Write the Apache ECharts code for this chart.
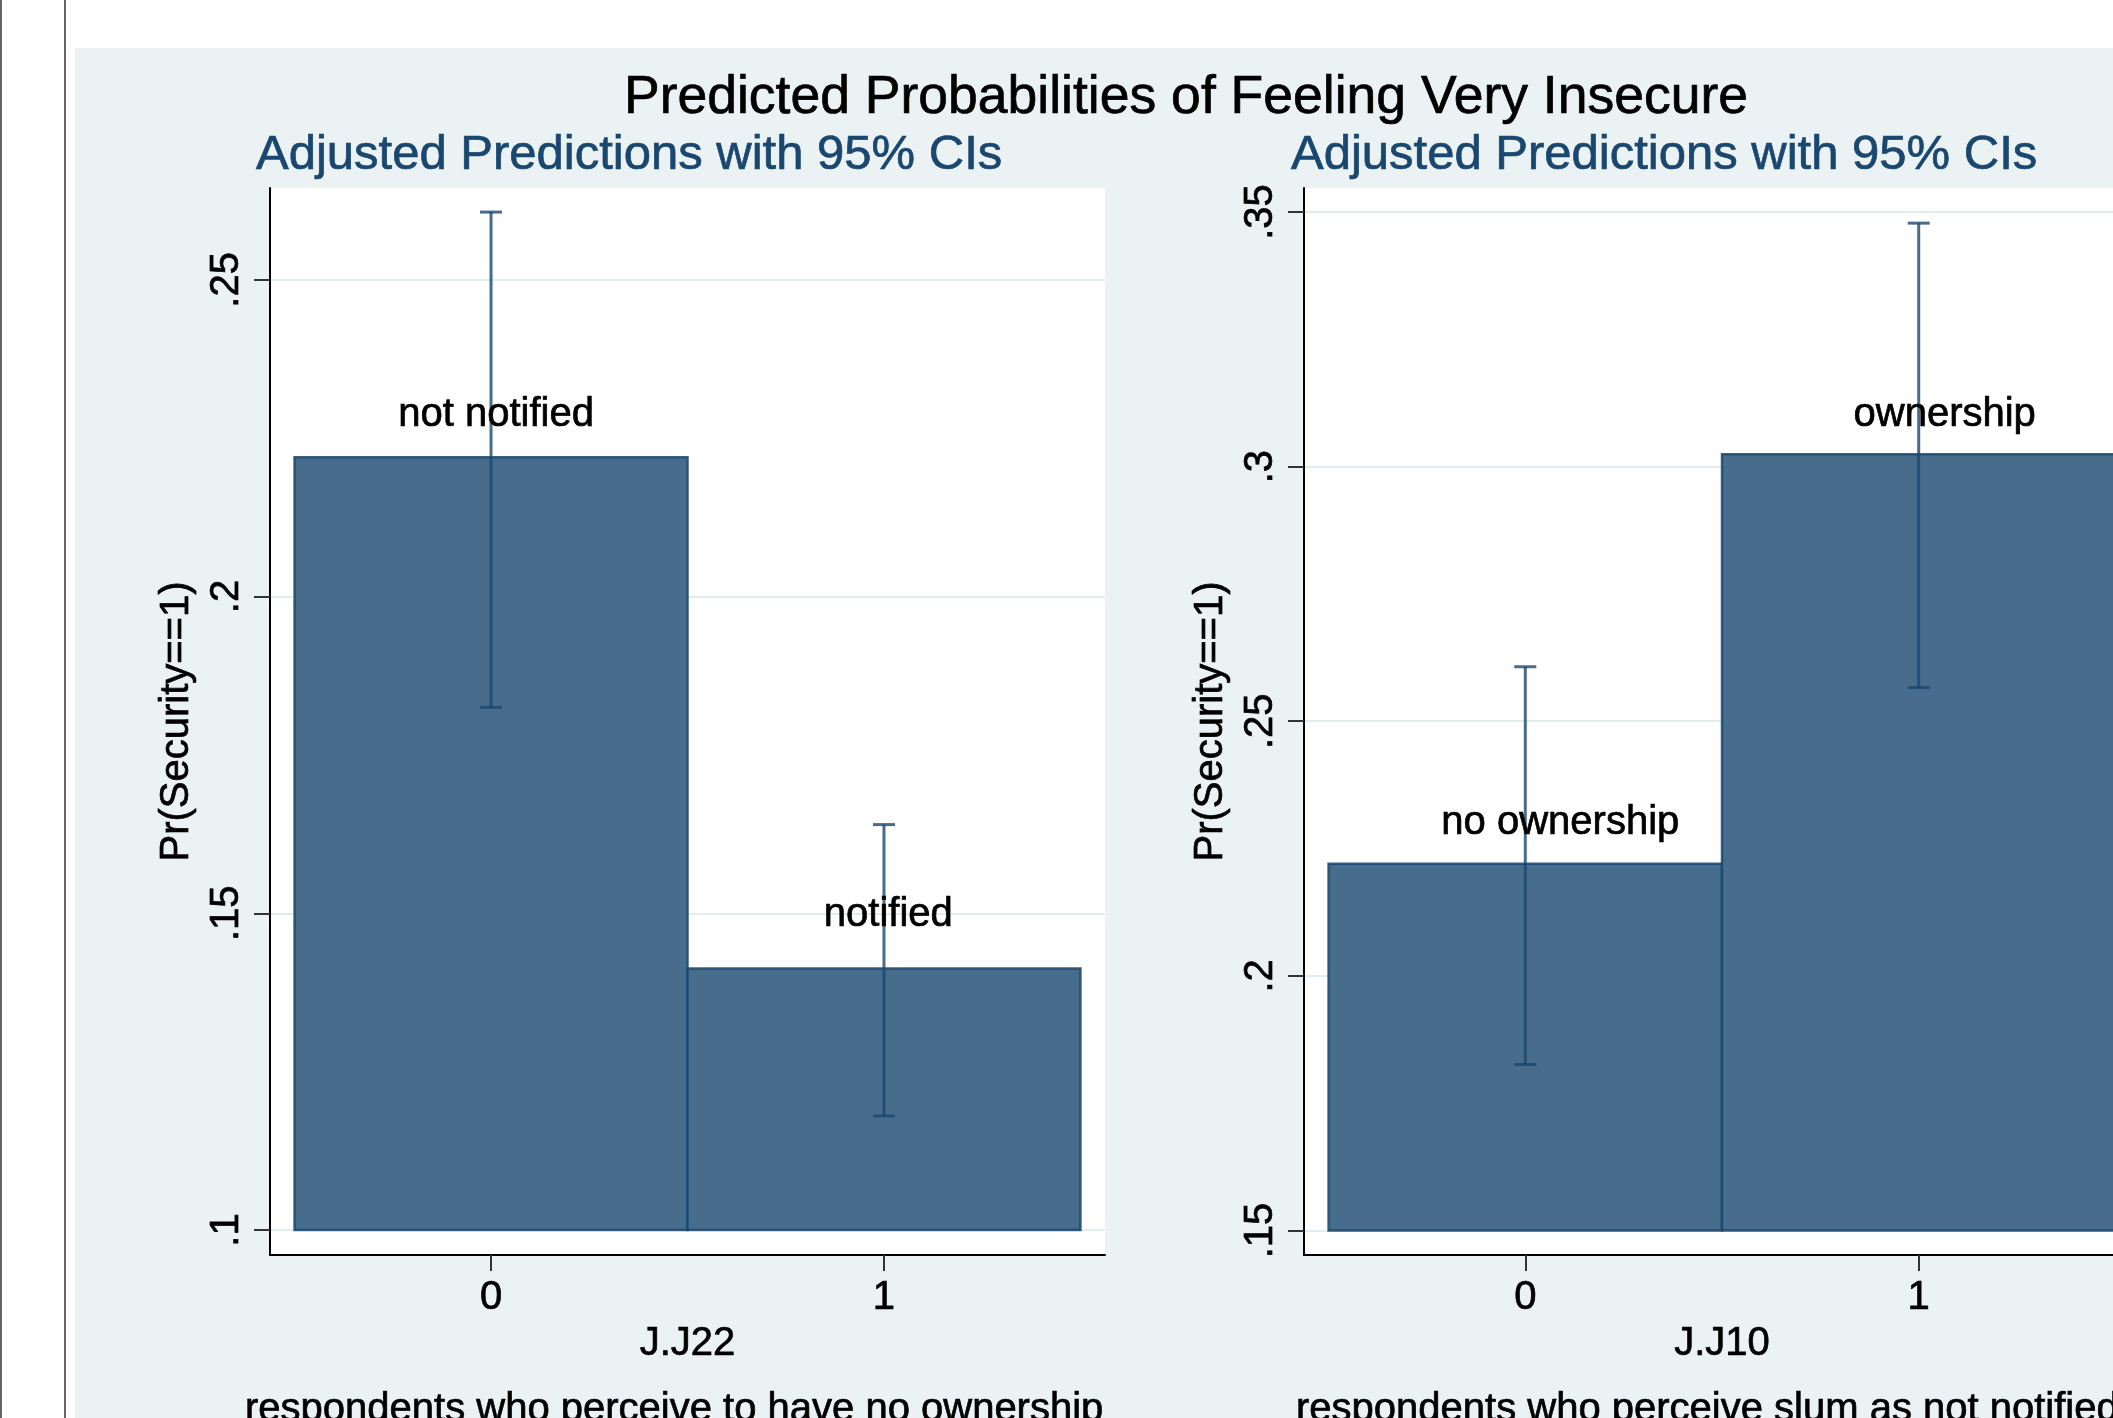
<!DOCTYPE html>
<html><head><meta charset="utf-8">
<style>html,body{margin:0;padding:0;background:#fff;} #c{width:2113px;height:1418px;}</style>
<script src="https://cdn.jsdelivr.net/npm/echarts@6/dist/echarts.min.js"></script>
</head><body><div id="c"></div><script>
const FONT = '"Liberation Sans", Arial, Helvetica, sans-serif';
const mainTitle = 'Predicted Probabilities of Feeling Very Insecure';
const subTitle = 'Adjusted Predictions with 95% CIs';
const yAxisTitle = 'Pr(Security==1)';
const xCategories = [0, 1];
const xTickLabels = ['0', '1'];

// left panel
const leftXTitle = 'J.J22';
const leftNote = 'respondents who perceive to have no ownership';
const leftBarLabels = ['not notified', 'notified'];
const leftValues = [0.2220, 0.1413];
const leftCILow = [0.1825, 0.1180];
const leftCIHigh = [0.2607, 0.1640];
const leftLabelX = [0.013, 1.011];
const leftLabelY = [0.2271, 0.1482];
const leftYTicks = [0.10, 0.15, 0.20, 0.25];
const leftYTickLabels = ['.1', '.15', '.2', '.25'];
const leftBase = 0.10;

// right panel
const rightXTitle = 'J.J10';
const rightNote = 'respondents who perceive slum as not notified';
const rightBarLabels = ['no ownership', 'ownership'];
const rightValues = [0.2220, 0.3024];
const rightCILow = [0.1826, 0.2566];
const rightCIHigh = [0.2607, 0.3478];
const rightLabelX = [0.089, 1.066];
const rightLabelY = [0.2280, 0.3081];
const rightYTicks = [0.15, 0.20, 0.25, 0.30, 0.35];
const rightYTickLabels = ['.15', '.2', '.25', '.3', '.35'];
const rightBase = 0.15;

const NAVY = '#1a476f';
const BAR_FILL = '#486c8c';
const BAR_EDGE = 'rgba(26,71,111,0.85)';
const CI_COLOR = 'rgba(26,71,111,0.8)';
const MID = 0.25;
const HEFT = 0.7;

function lookup(ticks, labels) {
  return function (v) {
    const i = ticks.findIndex(t => Math.abs(t - v) < 1e-9);
    return i >= 0 ? labels[i] : '';
  };
}
function txt(size) {
  return { fontSize: size, lineHeight: size, fontFamily: FONT, color: '#000', textBorderColor: '#000', textBorderWidth: HEFT };
}

function makeYAxis(gi, min, max, ticks, labels) {
  return {
    type: 'value', gridIndex: gi, min: min, max: max,
    axisLine: { show: true, onZero: false, lineStyle: { color: '#000', width: 2 } },
    axisTick: { show: true, length: 16, customValues: ticks, lineStyle: { color: '#333', width: 2 } },
    axisLabel: Object.assign({ customValues: ticks, rotate: 90, margin: 23, formatter: lookup(ticks, labels) }, txt(40)),
    splitLine: { show: true, lineStyle: { color: '#e3ecef', width: 2 } },
    name: yAxisTitle, nameLocation: 'middle', nameGap: 73,
    nameTextStyle: txt(40)
  };
}
function makeXAxis(gi, title) {
  return {
    type: 'value', gridIndex: gi, min: -0.5625, max: 1.5625,
    axisLine: { show: true, onZero: false, lineStyle: { color: '#000', width: 2 } },
    axisTick: { show: true, length: 16, customValues: xCategories, lineStyle: { color: '#333', width: 2 } },
    axisLabel: Object.assign({ customValues: xCategories, margin: 23, formatter: lookup(xCategories, xTickLabels) }, txt(40)),
    splitLine: { show: false },
    name: title, nameLocation: 'middle', nameGap: 66,
    nameTextStyle: txt(40)
  };
}

function barSeries(idx, values, base) {
  return {
    type: 'custom', xAxisIndex: idx, yAxisIndex: idx, clip: false, z: 2,
    data: xCategories.map((c, i) => [c, values[i]]),
    renderItem: function (params, api) {
      const x = api.value(0), v = api.value(1);
      const p0 = api.coord([x - 0.5, v]);
      const p1 = api.coord([x + 0.5, base]);
      return { type: 'rect', shape: { x: p0[0], y: p0[1], width: p1[0] - p0[0], height: p1[1] - p0[1] },
        style: { fill: BAR_FILL, stroke: BAR_EDGE, lineWidth: 2.5 } };
    }
  };
}
function ciSeries(idx, lo, hi) {
  return {
    type: 'custom', xAxisIndex: idx, yAxisIndex: idx, clip: false, z: 3,
    data: xCategories.map((c, i) => [c, lo[i], hi[i]]),
    renderItem: function (params, api) {
      const x = api.value(0);
      const a = api.coord([x, api.value(1)]);
      const b = api.coord([x, api.value(2)]);
      const st = { stroke: CI_COLOR, lineWidth: 3 };
      return { type: 'group', children: [
        { type: 'line', shape: { x1: a[0], y1: a[1], x2: b[0], y2: b[1] }, style: st },
        { type: 'line', shape: { x1: a[0] - 11, y1: a[1], x2: a[0] + 11, y2: a[1] }, style: st },
        { type: 'line', shape: { x1: b[0] - 11, y1: b[1], x2: b[0] + 11, y2: b[1] }, style: st }
      ] };
    }
  };
}
function labelSeries(idx, lx, ly, texts) {
  return {
    type: 'custom', xAxisIndex: idx, yAxisIndex: idx, clip: false, z: 4,
    data: lx.map((x, i) => [x, ly[i], i]),
    renderItem: function (params, api) {
      const p = api.coord([api.value(0), api.value(1)]);
      return { type: 'text', style: { text: texts[api.value(2)], x: p[0], y: p[1] - MID * 40,
        fill: '#000', stroke: '#000', lineWidth: HEFT, font: '40px ' + FONT,
        textAlign: 'center', textVerticalAlign: 'middle', align: 'center', verticalAlign: 'middle' } };
    }
  };
}
function gtext(text, x, baseline, size, color, align) {
  return { type: 'text', z: 10, style: { text: text, x: x, y: baseline - MID * size, fill: color,
    stroke: color, lineWidth: HEFT,
    font: size + 'px ' + FONT, textAlign: align, textVerticalAlign: 'middle', align: align, verticalAlign: 'middle' } };
}

const chart = echarts.init(document.getElementById('c'), null, { renderer: 'canvas', width: 2113, height: 1418 });
chart.setOption({
  animation: false,
  backgroundColor: '#eaf2f3',
  grid: [
    { left: 270, top: 188, width: 835, height: 1067, show: true, backgroundColor: '#fff', borderWidth: 0, containLabel: false, outerBoundsMode: 'none' },
    { left: 1304, top: 188, width: 836, height: 1067, show: true, backgroundColor: '#fff', borderWidth: 0, containLabel: false, outerBoundsMode: 'none' }
  ],
  xAxis: [makeXAxis(0, leftXTitle), makeXAxis(1, rightXTitle)],
  yAxis: [
    makeYAxis(0, 0.09605, 0.2645, leftYTicks, leftYTickLabels),
    makeYAxis(1, 0.1452, 0.3547, rightYTicks, rightYTickLabels)
  ],
  series: [
    barSeries(0, leftValues, leftBase), ciSeries(0, leftCILow, leftCIHigh), labelSeries(0, leftLabelX, leftLabelY, leftBarLabels),
    barSeries(1, rightValues, rightBase), ciSeries(1, rightCILow, rightCIHigh), labelSeries(1, rightLabelX, rightLabelY, rightBarLabels)
  ],
  graphic: [
    { type: 'rect', z: 5, shape: { x: 0, y: 0, width: 2113, height: 48 }, style: { fill: '#fff' } },
    { type: 'rect', z: 5, shape: { x: 0, y: 0, width: 75, height: 1418 }, style: { fill: '#fff' } },
    { type: 'line', z: 6, shape: { x1: 1, y1: 0, x2: 1, y2: 1418 }, style: { stroke: '#333', lineWidth: 1.5 } },
    { type: 'line', z: 6, shape: { x1: 65, y1: 0, x2: 65, y2: 1418 }, style: { stroke: '#333', lineWidth: 1.5 } },
    gtext(mainTitle, 1186, 112, 53.5, '#000', 'center'),
    gtext(subTitle, 256, 168, 49, NAVY, 'left'),
    gtext(subTitle, 1291, 168, 49, NAVY, 'left'),
    gtext(leftNote, 245, 1420, 40, '#000', 'left'),
    gtext(rightNote, 1296, 1420, 40, '#000', 'left')
  ]
});
</script></body></html>
